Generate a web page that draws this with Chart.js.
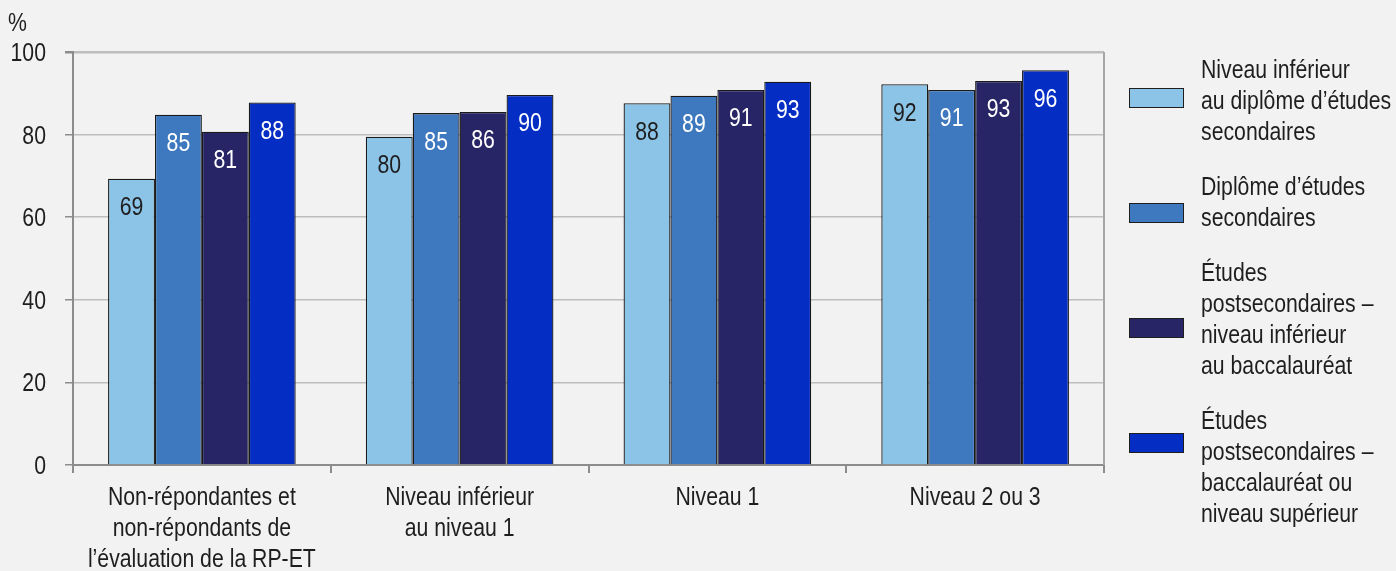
<!DOCTYPE html>
<html>
<head>
<meta charset="utf-8">
<script src="https://cdn.jsdelivr.net/npm/chart.js@4.4.1/dist/chart.umd.min.js"></script>
<style>
  html, body { margin: 0; padding: 0; background: #F2F2F2; }
  #wrap { position: relative; width: 1396px; height: 571px; overflow: hidden; }
  canvas { position: absolute; left: 0; top: 0; }
  #legend { position: absolute; left: 0; top: 0; width: 1396px; height: 571px; pointer-events: none;
    font-family: 'Liberation Sans', Arial, sans-serif; font-size: 25px; color: #1e1e1e; }
  .lg-box { position: absolute; left: 1129px; width: 53px; height: 18px; border: 1px solid #1e1e1e; }
  .lg-text { position: absolute; left: 1201px; line-height: 31px; white-space: nowrap;
    transform: scaleX(0.85); transform-origin: left top; }
</style>
</head>
<body>
<div id="wrap">
  <canvas id="c" width="1396" height="571"></canvas>
  <div id="legend"></div>
</div>
<script>
// ---- data ----
const categories = [
  ["Non-répondantes et", "non-répondants de", "l’évaluation de la RP-ET"],
  ["Niveau inférieur", "au niveau 1"],
  ["Niveau 1"],
  ["Niveau 2 ou 3"]
];
const seriesNames = [
  ["Niveau inférieur", "au diplôme d’études", "secondaires"],
  ["Diplôme d’études", "secondaires"],
  ["Études", "postsecondaires –", "niveau inférieur", "au baccalauréat"],
  ["Études", "postsecondaires –", "baccalauréat ou", "niveau supérieur"]
];
const belowSecondary   = [69.3, 79.5, 87.6, 92.2];
const secondaryDiploma = [84.8, 85.2, 89.4, 90.8];
const postSecBelowBac  = [80.7, 85.5, 90.8, 93.0];
const postSecBacOrMore = [87.8, 89.6, 92.8, 95.6];
const yTicks = [0, 20, 40, 60, 80, 100];
const seriesColors = ["#8CC4E7", "#3E78BE", "#282566", "#042DC4"];
const labelColors = ["#1e1e1e", "#ffffff", "#ffffff", "#ffffff"];
const yUnit = "%";

const FONT = "25px 'Liberation Sans', Arial, sans-serif";
const SX = 0.85;      // horizontal condensing of text
const CAP = 9;        // half cap height
const seriesValues = [belowSecondary, secondaryDiploma, postSecBelowBac, postSecBacOrMore];

function narrowText(ctx, text, x, y, align, color) {
  ctx.save();
  ctx.font = FONT;
  ctx.fillStyle = color || '#1e1e1e';
  ctx.textAlign = align;
  ctx.textBaseline = 'alphabetic';
  ctx.translate(x, y);
  ctx.scale(SX, 1);
  ctx.fillText(text, 0, 0);
  ctx.restore();
}

const valueLabels = {
  id: 'valueLabels',
  afterDatasetsDraw(chart) {
    const ctx = chart.ctx;
    chart.data.datasets.forEach((ds, i) => {
      chart.getDatasetMeta(i).data.forEach((bar, j) => {
        narrowText(ctx, String(Math.round(ds.data[j])), bar.x, bar.y + 36.5, 'center', labelColors[i]);
      });
    });
  }
};

const axisText = {
  id: 'axisText',
  beforeDraw(chart) {
    const ctx = chart.ctx;
    ctx.save();
    ctx.fillStyle = '#F2F2F2';
    ctx.fillRect(0, 0, chart.width, chart.height);
    ctx.restore();
  },
  afterDraw(chart) {
    const ctx = chart.ctx, a = chart.chartArea;
    const xs = chart.scales.x, ys = chart.scales.y;
    // right frame line
    ctx.save();
    ctx.strokeStyle = '#A6A6A6';
    ctx.lineWidth = 2;
    ctx.beginPath();
    ctx.moveTo(a.right, a.top);
    ctx.lineTo(a.right, a.bottom);
    ctx.stroke();
    ctx.restore();
    // y tick labels
    yTicks.forEach(v => {
      narrowText(ctx, String(v), a.left - 27, ys.getPixelForValue(v) + CAP, 'right');
    });
    // x category labels
    categories.forEach((lines, i) => {
      const x = xs.getPixelForValue(i);
      lines.forEach((ln, k) => {
        narrowText(ctx, ln, x, a.bottom + 40 + k * 31, 'center');
      });
    });
    // unit
    narrowText(ctx, yUnit, 8, 31, 'left');
  }
};

new Chart(document.getElementById('c'), {
  type: 'bar',
  data: {
    labels: categories.map(l => l.join(' ')),
    datasets: seriesValues.map((vals, i) => ({
      label: seriesNames[i].join(' '),
      data: vals,
      backgroundColor: seriesColors[i],
      borderColor: '#1a1a1a',
      borderWidth: 1.3,
      categoryPercentage: 0.728,
      barPercentage: 1.0
    }))
  },
  options: {
    responsive: false,
    animation: false,
    devicePixelRatio: 1,
    layout: { padding: { top: 52, right: 292, bottom: 0, left: 0 } },
    plugins: { legend: { display: false }, tooltip: { enabled: false } },
    scales: {
      x: {
        grid: { drawOnChartArea: false, drawTicks: true, tickLength: 8, color: '#8C8C8C', lineWidth: 2 },
        border: { display: true, color: '#8C8C8C', width: 2 },
        ticks: { display: false, autoSkip: false },
        afterFit(s) { s.height = 106; }
      },
      y: {
        min: 0, max: 100,
        afterBuildTicks(s) { s.ticks = yTicks.map(v => ({ value: v })); },
        grid: {
          color: (c) => c.tick && c.tick.value === 0 ? '#8C8C8C' : '#BDBDBD',
          lineWidth: (c) => c.tick && c.tick.value === 100 ? 2.5 : 1.5,
          tickColor: '#8C8C8C', tickLength: 8
        },
        border: { display: true, color: '#8C8C8C', width: 2 },
        ticks: { display: false },
        afterFit(s) { s.width = 73; }
      }
    }
  },
  plugins: [axisText, valueLabels]
});

// ---- legend (HTML) ----
const lg = document.getElementById('legend');
let textTop = 54;
seriesNames.forEach((lines, i) => {
  const box = document.createElement('div');
  box.className = 'lg-box';
  box.style.top = (88 + i * 115) + 'px';
  box.style.background = seriesColors[i];
  lg.appendChild(box);
  const t = document.createElement('div');
  t.className = 'lg-text';
  t.style.top = textTop + 'px';
  t.innerHTML = lines.join('<br>');
  lg.appendChild(t);
  textTop += lines.length * 31 + 24;
});
</script>
</body>
</html>
